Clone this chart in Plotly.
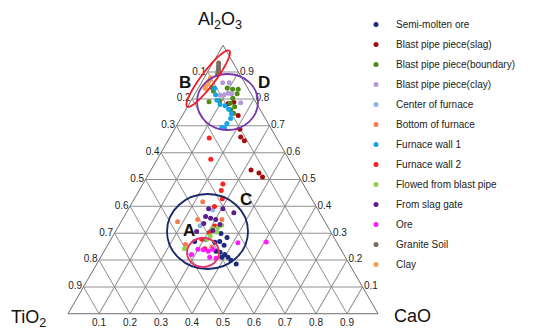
import numpy as np
import plotly.graph_objects as go

# ---------------- data (Al2O3 / TiO2 / CaO fractions) ----------------
tick_vals = [0.1, 0.2, 0.3, 0.4, 0.5, 0.6, 0.7, 0.8, 0.9]
tick_text = ["0.9", "0.8", "0.7", "0.6", "0.5", "0.4", "0.3", "0.2", "0.1"]

semi_al = [0.269, 0.277, 0.266, 0.269, 0.255, 0.233, 0.229, 0.221, 0.210, 0.210, 0.199, 0.185, 0.299, 0.284]
semi_ca = [0.274, 0.306, 0.341, 0.355, 0.376, 0.361, 0.376, 0.395, 0.391, 0.411, 0.426, 0.450, 0.344, 0.371]
semi_ti = [0.457, 0.417, 0.393, 0.376, 0.369, 0.406, 0.395, 0.384, 0.399, 0.379, 0.375, 0.365, 0.357, 0.345]

slag_al = [0.782, 0.788, 0.738, 0.687, 0.658, 0.644, 0.535, 0.524, 0.509]
slag_ca = [0.125, 0.141, 0.180, 0.211, 0.228, 0.247, 0.323, 0.354, 0.373]
slag_ti = [0.093, 0.071, 0.082, 0.102, 0.114, 0.109, 0.142, 0.122, 0.118]

bnd_al = [0.843, 0.830, 0.790, 0.792, 0.841, 0.836, 0.836, 0.819, 0.803, 0.784, 0.771, 0.760, 0.747]
bnd_ca = [0.043, 0.054, 0.060, 0.093, 0.093, 0.113, 0.131, 0.136, 0.130, 0.131, 0.152, 0.145, 0.161]
bnd_ti = [0.114, 0.116, 0.150, 0.115, 0.066, 0.051, 0.033, 0.045, 0.067, 0.085, 0.077, 0.095, 0.092]

bpclay_al = [0.860, 0.860, 0.814, 0.816, 0.821, 0.819, 0.786]
bpclay_ca = [0.069, 0.090, 0.084, 0.096, 0.106, 0.118, 0.164]
bpclay_ti = [0.071, 0.050, 0.102, 0.088, 0.073, 0.063, 0.050]

center_al = [0.386, 0.328]
center_ca = [0.274, 0.262]
center_ti = [0.340, 0.410]

bottom_al = [0.417, 0.343, 0.351, 0.351, 0.258, 0.249]
bottom_ca = [0.226, 0.182, 0.243, 0.321, 0.250, 0.339]
bottom_ti = [0.357, 0.475, 0.406, 0.328, 0.492, 0.412]

wall1_al = [0.840, 0.816, 0.795, 0.779, 0.775, 0.762, 0.745, 0.727, 0.709, 0.694, 0.692]
wall1_ca = [0.053, 0.068, 0.083, 0.101, 0.119, 0.137, 0.155, 0.161, 0.158, 0.149, 0.159]
wall1_ti = [0.107, 0.116, 0.122, 0.120, 0.106, 0.101, 0.100, 0.112, 0.133, 0.157, 0.149]

wall2_al = [0.655, 0.575, 0.483, 0.459, 0.428, 0.399, 0.327, 0.303, 0.277, 0.242]
wall2_ca = [0.128, 0.173, 0.258, 0.265, 0.284, 0.273, 0.310, 0.304, 0.293, 0.320]
wall2_ti = [0.217, 0.252, 0.259, 0.276, 0.288, 0.328, 0.363, 0.393, 0.430, 0.438]

flow_al = [0.317, 0.321, 0.330, 0.304, 0.290, 0.277, 0.242]
flow_ca = [0.308, 0.323, 0.331, 0.328, 0.314, 0.309, 0.255]
flow_ti = [0.375, 0.356, 0.339, 0.368, 0.396, 0.414, 0.503]

gate_al = [0.391, 0.391, 0.376, 0.362, 0.356, 0.351, 0.336, 0.332, 0.310, 0.306]
gate_ca = [0.258, 0.304, 0.347, 0.263, 0.282, 0.301, 0.270, 0.324, 0.312, 0.262]
gate_ti = [0.351, 0.305, 0.277, 0.375, 0.362, 0.348, 0.394, 0.344, 0.378, 0.432]

ore_al = [0.221, 0.240, 0.238, 0.233, 0.240, 0.210, 0.207, 0.264, 0.267]
ore_ca = [0.288, 0.299, 0.317, 0.336, 0.347, 0.352, 0.374, 0.416, 0.506]
ore_ti = [0.491, 0.461, 0.445, 0.431, 0.413, 0.438, 0.419, 0.320, 0.227]

granite_al = [0.934, 0.923, 0.913, 0.904, 0.899, 0.893]
granite_ca = [0.019, 0.024, 0.029, 0.032, 0.038, 0.036]
granite_ti = [0.047, 0.053, 0.058, 0.064, 0.063, 0.071]

clay_al = [0.880, 0.872, 0.864, 0.856, 0.848, 0.840]
clay_ca = [0.020, 0.022, 0.021, 0.023, 0.020, 0.022]
clay_ti = [0.100, 0.106, 0.115, 0.121, 0.132, 0.138]

series = [
    ("Semi-molten ore", semi_al, semi_ti, semi_ca, "#1c2a80"),
    ("Blast pipe piece(slag)", slag_al, slag_ti, slag_ca, "#a50d0d"),
    ("Blast pipe piece(boundary)", bnd_al, bnd_ti, bnd_ca, "#4e8a1a"),
    ("Blast pipe piece(clay)", bpclay_al, bpclay_ti, bpclay_ca, "#b49ad4"),
    ("Center of furnace", center_al, center_ti, center_ca, "#8db4e2"),
    ("Bottom of furnace", bottom_al, bottom_ti, bottom_ca, "#f47b50"),
    ("Furnace wall 1", wall1_al, wall1_ti, wall1_ca, "#12a5ea"),
    ("Furnace wall 2", wall2_al, wall2_ti, wall2_ca, "#ff1f1f"),
    ("Flowed from blast pipe", flow_al, flow_ti, flow_ca, "#92d050"),
    ("From slag gate", gate_al, gate_ti, gate_ca, "#5c1f8c"),
    ("Ore", ore_al, ore_ti, ore_ca, "#ff1aff"),
    ("Granite Soil", granite_al, granite_ti, granite_ca, "#7d6b5d"),
    ("Clay", clay_al, clay_ti, clay_ca, "#f7a055"),
]

# ---------------- layout geometry ----------------
# the page body has an 8px default margin, so the figure is drawn 8px in
OFF = 8
W, H = 534 - OFF, 331 - OFF
ML, MR, MT, MB = 60, 156, 37, 17
PW, PH = W - ML - MR, H - MT - MB


def px(x, y):
    """page pixel position -> paper coordinates"""
    return (x - OFF - ML) / PW, (H - MB - (y - OFF)) / PH


fig = go.Figure()
for name, al, ti, ca, col in series:
    fig.add_trace(go.Scatterternary(
        a=al, b=ti, c=ca, mode="markers", name=name, legendgroup=name,
        marker=dict(size=5, color=col, line=dict(width=0)),
    ))

axis_style = dict(
    tickmode="array", tickvals=tick_vals, ticktext=tick_text,
    showgrid=True, gridcolor="#8f8f8f", gridwidth=1,
    showline=True, linecolor="#6f6f6f", linewidth=1,
    ticks="", tickfont=dict(size=10, color="#222222"),
    title=dict(text=""), min=0,
)

shapes = []


def circle(x0, y0, x1, y1, color):
    p0 = px(x0, y1)
    p1 = px(x1, y0)
    shapes.append(dict(type="circle", xref="paper", yref="paper",
                       x0=p0[0], y0=p0[1], x1=p1[0], y1=p1[1],
                       line=dict(color=color, width=1.8)))


circle(197, 74, 258, 130, "#7a35b0")   # D
circle(167, 194, 248, 269, "#1b2768")  # C
circle(187, 238, 219, 267, "#e8336b")  # A

# tilted ellipse B
cx, cy = 208.2, 78.6
ux, uy = 0.602, -0.799
ra, rb = 35.0, 7.0
t = np.linspace(0, 2 * np.pi, 73)
exs = cx + ra * np.cos(t) * ux + rb * np.sin(t) * (-uy)
eys = cy + ra * np.cos(t) * uy + rb * np.sin(t) * ux
pts = [px(x, y) for x, y in zip(exs, eys)]
path = "M " + " L ".join(f"{p[0]:.5f},{p[1]:.5f}" for p in pts) + " Z"
shapes.append(dict(type="path", xref="paper", yref="paper", path=path,
                   line=dict(color="#ee1c24", width=1.8)))

annotations = []


def label(text, x, y, size, bold=False):
    p = px(x, y)
    annotations.append(dict(
        text=f"<b>{text}</b>" if bold else text, x=p[0], y=p[1],
        xref="paper", yref="paper", showarrow=False,
        xanchor="center", yanchor="middle",
        font=dict(size=size, color="#111111")))


label("A", 189, 230, 17, True)
label("B", 185, 82, 17, True)
label("C", 246, 199, 17, True)
label("D", 264, 82, 17, True)
label("Al<sub>2</sub>O<sub>3</sub>", 220, 20, 18)
label("TiO<sub>2</sub>", 28, 318, 18)
label("CaO", 413, 316, 18)

legend_pos = px(356, 10)
fig.update_layout(
    width=W, height=H,
    margin=dict(l=ML, r=MR, t=MT, b=MB, autoexpand=False),
    paper_bgcolor="white", plot_bgcolor="white",
    font=dict(family="Liberation Sans, Arial, sans-serif", color="#222222"),
    ternary=dict(sum=1, bgcolor="white",
                 aaxis=axis_style, baxis=axis_style, caxis=axis_style),
    legend=dict(x=legend_pos[0], y=legend_pos[1], xanchor="left", yanchor="top",
                font=dict(size=10, color="#222222"), bgcolor="rgba(0,0,0,0)",
                itemwidth=30, tracegroupgap=1, maxheight=320),
    shapes=shapes,
    annotations=annotations,
    showlegend=True,
)

fig.write_html("out.html")
